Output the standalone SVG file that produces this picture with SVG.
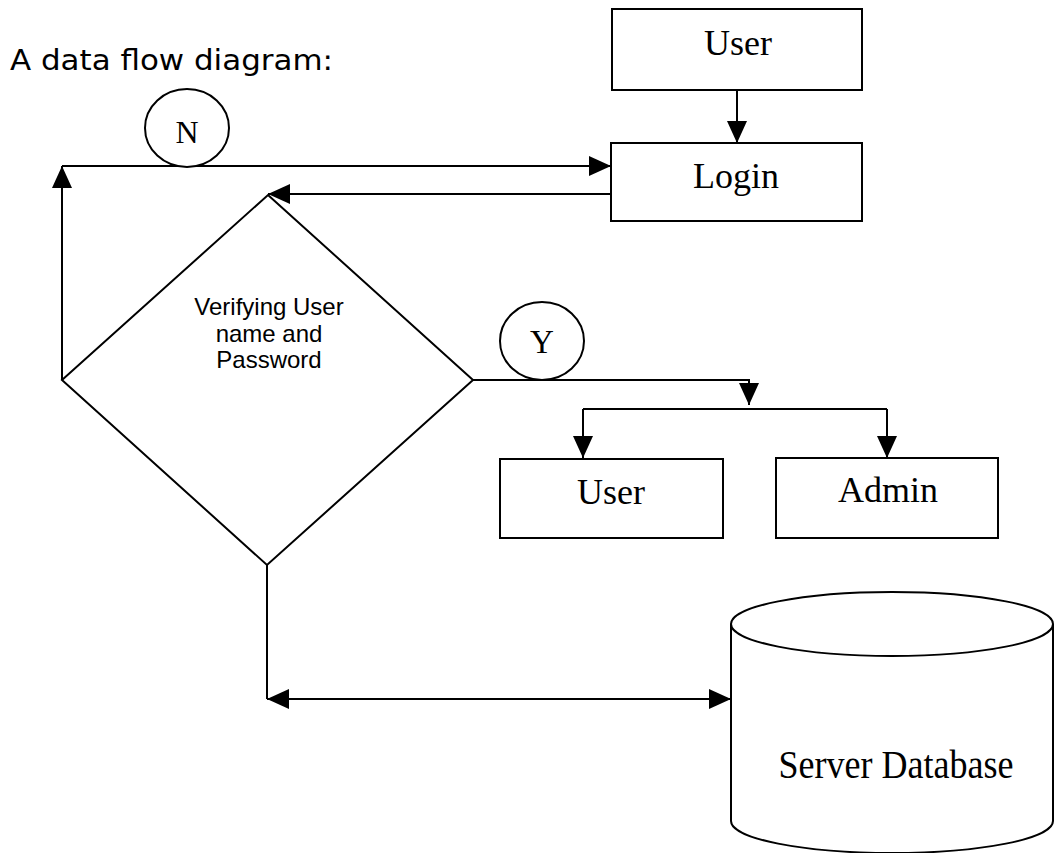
<svg xmlns="http://www.w3.org/2000/svg" width="1054" height="853" viewBox="0 0 1054 853">
<style>
.box{fill:#fff;stroke:#000;stroke-width:2}
.ln{fill:none;stroke:#000;stroke-width:2}
.tt{font-family:"Liberation Serif","Times New Roman",serif;fill:#000;text-anchor:middle}
.ta{font-family:"Liberation Sans",Arial,sans-serif;fill:#000;text-anchor:middle;font-size:24px}
</style>
<defs>
<marker id="ah" viewBox="0 0 22 20" refX="22" refY="10" markerWidth="22" markerHeight="20" markerUnits="userSpaceOnUse" orient="auto-start-reverse">
<path d="M0,0 L22,10 L0,20 Z" fill="#000"/>
</marker>
</defs>
<rect width="1054" height="853" fill="#fff"/>
<text x="10" y="70" font-family="'DejaVu Sans',Verdana,sans-serif" font-size="28" textLength="323" lengthAdjust="spacingAndGlyphs" fill="#000">A data flow diagram:</text>
<g id="connectors">
<path class="ln" d="M737,90 L737,143" marker-end="url(#ah)"/>
<path class="ln" d="M62,380 L62,166" marker-end="url(#ah)"/>
<path class="ln" d="M62,166 L611,166" marker-end="url(#ah)"/>
<path class="ln" d="M611,194 L268,194" marker-end="url(#ah)"/>
<path class="ln" d="M473,380 L749,380 L749,405" marker-end="url(#ah)"/>
<path class="ln" d="M583,409 L887,409"/>
<path class="ln" d="M583,409 L583,458" marker-end="url(#ah)"/>
<path class="ln" d="M887,409 L887,458" marker-end="url(#ah)"/>
<path class="ln" d="M267,565 L267,699"/>
<path class="ln" d="M267,699 L731,699" marker-start="url(#ah)" marker-end="url(#ah)"/>
</g>
<g id="user-top">
<rect class="box" x="612" y="9" width="250" height="81"/>
<text class="tt" x="738" y="55" font-size="36">User</text>
</g>
<g id="login">
<rect class="box" x="611" y="143" width="251" height="78"/>
<text class="tt" x="736" y="188" font-size="36">Login</text>
</g>
<g id="n-label">
<ellipse class="box" cx="187" cy="128" rx="42" ry="39"/>
<text class="tt" x="187" y="143" font-size="32">N</text>
</g>
<g id="decision">
<polygon class="box" points="268,195 473,380 267,565 62,380"/>
<text class="ta" x="269" y="315">Verifying User</text>
<text class="ta" x="269" y="342">name and</text>
<text class="ta" x="269" y="368">Password</text>
</g>
<g id="y-label">
<ellipse class="box" cx="542" cy="341" rx="42" ry="39"/>
<text class="tt" x="542" y="353" font-size="33">Y</text>
</g>
<g id="user">
<rect class="box" x="500" y="459" width="223" height="79"/>
<text class="tt" x="611" y="504" font-size="36">User</text>
</g>
<g id="admin">
<rect class="box" x="776" y="458" width="222" height="80"/>
<text class="tt" x="888" y="502" font-size="36">Admin</text>
</g>
<g id="server-db">
<path class="box" d="M731,624 L731,821 A161,32 0 0 0 1053,821 L1053,624"/>
<ellipse class="box" cx="892" cy="624" rx="161" ry="32"/>
<text class="tt" x="896" y="778" font-size="40" textLength="235" lengthAdjust="spacingAndGlyphs">Server Database</text>
</g>
</svg>
